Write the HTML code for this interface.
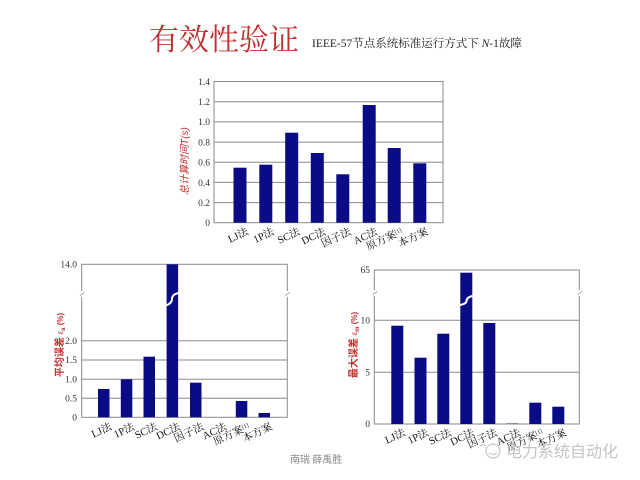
<!DOCTYPE html>
<html><head><meta charset="utf-8"><style>
html,body{margin:0;padding:0;background:#fff;}
svg{display:block;}
.t{font-family:"Liberation Serif","Noto Serif CJK SC",serif;fill:#222;}
.tk{font-family:"Liberation Serif","Noto Serif CJK SC",serif;font-size:9.5px;fill:#333;}
.xl{font-family:"Liberation Serif","Noto Serif CJK SC",serif;font-size:10.5px;fill:#111;}
.yl{font-family:"Liberation Sans","Noto Sans CJK SC",sans-serif;font-size:10px;fill:#c0302f;}
</style></head><body>
<svg width="640" height="480" viewBox="0 0 640 480" xmlns="http://www.w3.org/2000/svg">
<rect width="640" height="480" fill="#fff"/>
<!-- Title -->
<text x="149" y="50" font-family="'Noto Serif CJK SC',serif" font-size="30" fill="#c0302f">有效性验证</text>
<text x="312" y="47" class="t" font-size="11.5">IEEE-57节点系统标准运行方式下 <tspan font-style="italic">N</tspan>-1故障</text>

<!-- ===== Top chart ===== -->
<g stroke="#8a8a8a" stroke-width="1" fill="none">
<line x1="214" y1="202.6" x2="443" y2="202.6"/>
<line x1="214" y1="182.4" x2="443" y2="182.4"/>
<line x1="214" y1="162.3" x2="443" y2="162.3"/>
<line x1="214" y1="142.1" x2="443" y2="142.1"/>
<line x1="214" y1="121.9" x2="443" y2="121.9"/>
<line x1="214" y1="101.8" x2="443" y2="101.8"/>
<rect x="214" y="81.5" width="229" height="141.2"/>
</g>
<g fill="#0b0b86">
<rect x="233.5" y="167.7" width="13" height="55"/>
<rect x="259.3" y="164.7" width="13" height="58"/>
<rect x="285.2" y="132.7" width="13" height="90"/>
<rect x="310.8" y="153" width="13" height="69.7"/>
<rect x="336.3" y="174.3" width="13" height="48.4"/>
<rect x="362.7" y="105" width="13" height="117.7"/>
<rect x="387.7" y="148" width="13" height="74.7"/>
<rect x="413.3" y="163.3" width="13" height="59.4"/>
</g>
<g class="tk" text-anchor="end">
<text x="210" y="226">0</text>
<text x="210" y="206">0.2</text>
<text x="210" y="186">0.4</text>
<text x="210" y="165.5">0.6</text>
<text x="210" y="145.5">0.8</text>
<text x="210" y="125">1.0</text>
<text x="210" y="105">1.2</text>
<text x="210" y="85">1.4</text>
</g>
<g class="xl" text-anchor="end">
<text transform="translate(249,234) rotate(-25)">LJ法</text>
<text transform="translate(274.8,234) rotate(-25)">1P法</text>
<text transform="translate(300.7,234) rotate(-25)">SC法</text>
<text transform="translate(326.3,234) rotate(-25)">DC法</text>
<text transform="translate(351.8,234) rotate(-25)">因子法</text>
<text transform="translate(378.2,234) rotate(-25)">AC法</text>
<text transform="translate(403.2,234) rotate(-25)">原方案<tspan font-size="6" dy="-3">[1]</tspan></text>
<text transform="translate(428.8,234) rotate(-25)">本方案</text>
</g>
<text transform="translate(188,161) rotate(-90)" text-anchor="middle" class="yl" font-style="italic" font-family="'Liberation Serif','Noto Serif CJK SC',serif">总计算时间<tspan font-style="italic">T</tspan>(s)</text>

<!-- ===== Bottom-left chart ===== -->
<g stroke="#8a8a8a" stroke-width="1" fill="none">
<line x1="81.7" y1="398.3" x2="287.3" y2="398.3"/>
<line x1="81.7" y1="379.3" x2="287.3" y2="379.3"/>
<line x1="81.7" y1="360" x2="287.3" y2="360"/>
<line x1="81.7" y1="340.7" x2="287.3" y2="340.7"/>
<rect x="81.7" y="264.3" width="205.6" height="153"/>
</g>
<g fill="#fff"><rect x="79" y="291" width="6" height="6"/><rect x="284.5" y="291" width="6" height="6"/></g>
<g stroke="#999" stroke-width="0.8" fill="none">
<path d="M80,296 q1,-2 2,-2 q1,0 2,-2"/>
<path d="M285.5,296 q1,-2 2,-2 q1,0 2,-2"/>
</g>
<g fill="#0b0b86">
<rect x="98" y="389" width="11.5" height="28.3"/>
<rect x="120.8" y="379.3" width="11.5" height="38"/>
<rect x="143.5" y="356.7" width="11.5" height="60.6"/>
<rect x="166.6" y="264.3" width="11.5" height="153"/>
<rect x="190" y="382.7" width="11.5" height="34.6"/>
<rect x="235.8" y="401" width="11.5" height="16.3"/>
<rect x="258.5" y="413" width="11.5" height="4.3"/>
</g>
<path d="M178.5,293 C174,294 172,296 172,299 C172,302 170,304 166,305.5" stroke="#fff" stroke-width="2" fill="none"/>
<g class="tk" text-anchor="end">
<text x="77" y="420.5">0</text>
<text x="77" y="401.5">0.5</text>
<text x="77" y="382.5">1.0</text>
<text x="77" y="363">1.5</text>
<text x="77" y="344">2.0</text>
<text x="77" y="267.5">14.0</text>
</g>
<g class="xl" text-anchor="end">
<text transform="translate(112.5,429) rotate(-25)">LJ法</text>
<text transform="translate(135.3,429) rotate(-25)">1P法</text>
<text transform="translate(158,429) rotate(-25)">SC法</text>
<text transform="translate(181,429) rotate(-25)">DC法</text>
<text transform="translate(204.5,429) rotate(-25)">因子法</text>
<text transform="translate(227.3,429) rotate(-25)">AC法</text>
<text transform="translate(250.3,429) rotate(-25)">原方案<tspan font-size="6" dy="-3">[1]</tspan></text>
<text transform="translate(273,429) rotate(-25)">本方案</text>
</g>
<text transform="translate(63,345) rotate(-90)" text-anchor="middle" class="yl" font-weight="bold">平均误差 <tspan font-weight="normal" font-style="italic" font-size="8">ε</tspan><tspan font-size="6" dy="2">a</tspan><tspan dy="-2" font-size="8"> (%)</tspan></text>

<!-- ===== Bottom-right chart ===== -->
<g stroke="#8a8a8a" stroke-width="1" fill="none">
<line x1="374.3" y1="372.3" x2="579.3" y2="372.3"/>
<line x1="374.3" y1="320.3" x2="579.3" y2="320.3"/>
<rect x="374.3" y="270" width="205" height="154"/>
</g>
<g fill="#fff"><rect x="371.5" y="290" width="6" height="6"/><rect x="576.5" y="290" width="6" height="6"/></g>
<g stroke="#999" stroke-width="0.8" fill="none">
<path d="M373,295 q1,-2 2,-2 q1,0 2,-2"/>
<path d="M578,295 q1,-2 2,-2 q1,0 2,-2"/>
</g>
<g fill="#0b0b86">
<rect x="391.3" y="325.7" width="12" height="98.3"/>
<rect x="414.5" y="357.7" width="12" height="66.3"/>
<rect x="437.3" y="333.7" width="12" height="90.3"/>
<rect x="460.3" y="272.7" width="12" height="151.3"/>
<rect x="483.3" y="323" width="12" height="101"/>
<rect x="506.5" y="423" width="12" height="1" fill="#8888aa"/>
<rect x="529.3" y="402.7" width="12" height="21.3"/>
<rect x="552.3" y="406.7" width="12" height="17.3"/>
</g>
<path d="M472.5,296 C468,297 466.5,299 466.5,301 C466.5,303 464.5,304 460,305" stroke="#fff" stroke-width="2" fill="none"/>
<g class="tk" text-anchor="end">
<text x="370" y="427">0</text>
<text x="370" y="375.5">5</text>
<text x="370" y="323.5">10</text>
<text x="370" y="273">65</text>
</g>
<g class="xl" text-anchor="end">
<text transform="translate(406,435) rotate(-25)">LJ法</text>
<text transform="translate(429.2,435) rotate(-25)">1P法</text>
<text transform="translate(452,435) rotate(-25)">SC法</text>
<text transform="translate(475,435) rotate(-25)">DC法</text>
<text transform="translate(498,435) rotate(-25)">因子法</text>
<text transform="translate(521.2,435) rotate(-25)">AC法</text>
<text transform="translate(544,435) rotate(-25)">原方案<tspan font-size="6" dy="-3">[1]</tspan></text>
<text transform="translate(567,435) rotate(-25)">本方案</text>
</g>
<text transform="translate(357,345) rotate(-90)" text-anchor="middle" class="yl" font-weight="bold">最大误差 <tspan font-weight="normal" font-style="italic" font-size="8">ε</tspan><tspan font-size="6" dy="2">m</tspan><tspan dy="-2" font-size="8"> (%)</tspan></text>

<!-- Footer -->
<text x="290" y="463" font-family="'Noto Sans CJK SC',sans-serif" font-size="10" fill="#888">南瑞 薛禹胜</text>
<g stroke="#c8c8c8" stroke-width="1.2" fill="none">
<circle cx="493" cy="451" r="7"/>
<path d="M480,446 q3,-3 6,0"/>
<path d="M489,453 q4,3 8,0"/>
</g>
<text x="506" y="457" font-family="'Noto Sans CJK SC',sans-serif" font-size="16" fill="#c4c4c4">电力系统自动化</text>
</svg>
</body></html>
